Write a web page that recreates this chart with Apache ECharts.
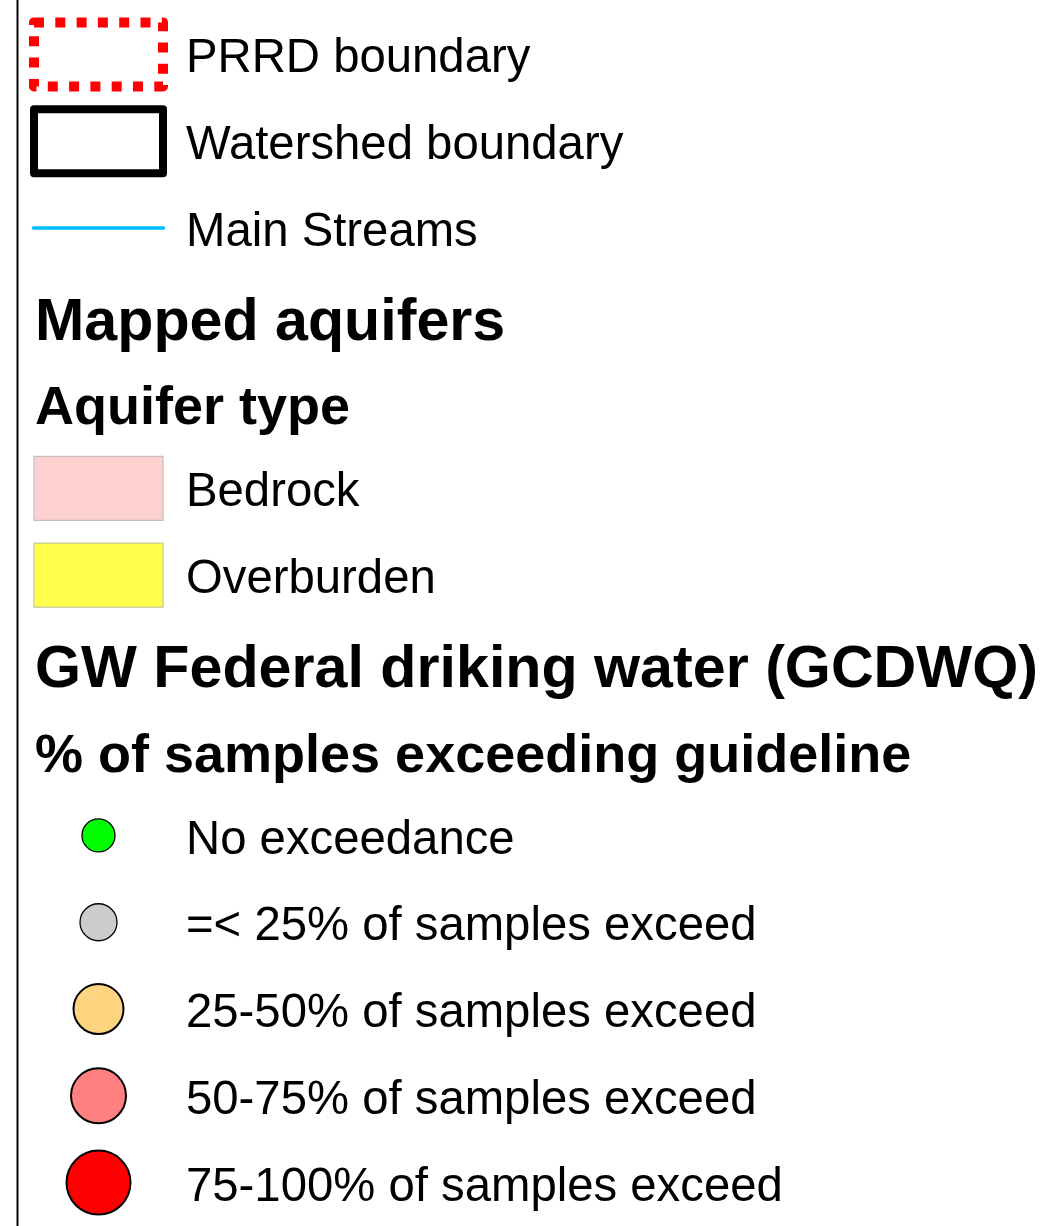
<!DOCTYPE html>
<html>
<head>
<meta charset="utf-8">
<script src="https://cdn.jsdelivr.net/npm/echarts@6/dist/echarts.min.js"></script>
<style>
html,body{margin:0;padding:0;background:#fff;}
#chart{width:1046px;height:1226px;}
</style>
</head>
<body>
<div id="chart"></div>
<script>
// ---- Legend content ----
const boundaryItems = ['PRRD boundary', 'Watershed boundary', 'Main Streams'];
const headingMain1 = 'Mapped aquifers';
const headingSub1 = 'Aquifer type';
const aquiferTypes = ['Bedrock', 'Overburden'];
const aquiferColors = ['#ffd0d0', '#ffff4c'];
const aquiferBorders = ['#c0c0c0', '#c8c890'];
const headingMain2 = 'GW Federal driking water (GCDWQ)';
const headingSub2 = '% of samples exceeding guideline';
const exceedClasses = ['No exceedance', '=< 25% of samples exceed', '25-50% of samples exceed', '50-75% of samples exceed', '75-100% of samples exceed'];
const exceedColors = ['#00ff00', '#cccccc', '#ffd480', '#ff8080', '#ff0000'];
const exceedSizes = [33, 37, 50, 55, 64];

// row order (category axis)
const rows = [].concat(boundaryItems, [headingMain1, headingSub1], aquiferTypes, [headingMain2, headingSub2], exceedClasses);

const SYM_X = 98.5;   // symbol column
const TXT_X = 184;    // label column
const HEAD_X = 33;    // heading column
const SW_W = 129, SW_H = 64;  // swatch size
const FONT = "'Liberation Sans', Arial, Helvetica, sans-serif";

const chart = echarts.init(document.getElementById('chart'), null, {renderer: 'canvas'});

const labelRows = [].concat(boundaryItems, aquiferTypes, exceedClasses);

// swatch styles by row name
const swatchStyles = {};
swatchStyles[boundaryItems[0]] = {kind: 'rect', style: {fill: 'none', stroke: '#ff0000', lineWidth: 10, lineDash: [10, 11.3], lineJoin: 'round'}};
swatchStyles[boundaryItems[1]] = {kind: 'rect', style: {fill: 'none', stroke: '#000000', lineWidth: 8, lineJoin: 'round'}};
swatchStyles[boundaryItems[2]] = {kind: 'line', style: {stroke: '#00bfff', lineWidth: 3.5, lineCap: 'round'}};
aquiferTypes.forEach((t, i) => {
  swatchStyles[t] = {kind: 'rect', style: {fill: aquiferColors[i], stroke: aquiferBorders[i], lineWidth: 1.2}};
});
const swatchRows = [].concat(boundaryItems, aquiferTypes);

const series = [
  {
    type: 'custom', silent: true,
    data: swatchRows.map(t => [SYM_X, t]),
    renderItem: function (params, api) {
      const name = swatchRows[params.dataIndex];
      const c = api.coord([api.value(0), name]);
      const s = swatchStyles[name];
      if (s.kind === 'line') {
        return {type: 'line', shape: {x1: c[0] - 65, y1: c[1], x2: c[0] + 65, y2: c[1]}, style: s.style};
      }
      return {type: 'rect', shape: {x: c[0] - SW_W / 2, y: c[1] - SW_H / 2, width: SW_W, height: SW_H}, style: s.style};
    }
  },
  // Exceedance circles
  {
    type: 'scatter', silent: true, symbol: 'circle',
    data: exceedClasses.map((t, i) => ({
      value: [SYM_X, t],
      symbolSize: exceedSizes[i],
      itemStyle: {color: exceedColors[i], borderColor: '#000', borderWidth: i < 2 ? 1.3 : 2, opacity: 1}
    }))
  },
  // Item labels
  {
    type: 'scatter', silent: true, symbolSize: 0,
    itemStyle: {opacity: 1},
    data: labelRows.map(t => [TXT_X, t]),
    label: {
      show: true, position: 'right', distance: 0, offset: [2, 5],
      formatter: p => p.value[1],
      color: '#000', fontFamily: FONT, fontSize: 47.3, fontWeight: 'normal'
    }
  },
  // Main headings
  {
    type: 'scatter', silent: true, symbolSize: 0,
    itemStyle: {opacity: 1},
    data: [[HEAD_X, headingMain1], [HEAD_X, headingMain2]],
    label: {
      show: true, position: 'right', distance: 0, offset: [2, 9],
      formatter: p => p.value[1],
      color: '#000', fontFamily: FONT, fontSize: 59.2, fontWeight: 'bold'
    }
  },
  // Sub headings
  {
    type: 'scatter', silent: true, symbolSize: 0,
    itemStyle: {opacity: 1},
    data: [[HEAD_X, headingSub1], [HEAD_X, headingSub2]],
    label: {
      show: true, position: 'right', distance: 0, offset: [2, 8],
      formatter: p => p.value[1],
      color: '#000', fontFamily: FONT, fontSize: 54, fontWeight: 'bold'
    }
  }
];

chart.setOption({
  animation: false,
  backgroundColor: '#ffffff',
  grid: {left: 0, right: 0, top: 11, bottom: 0},
  xAxis: {type: 'value', min: 0, max: 1046, show: false},
  yAxis: {type: 'category', data: rows, inverse: true, show: false},
  graphic: [{
    type: 'line', silent: true,
    shape: {x1: 17.5, y1: 0, x2: 17.5, y2: 1226},
    style: {stroke: '#000', lineWidth: 2}
  }],
  series: series
});
</script>
</body>
</html>
